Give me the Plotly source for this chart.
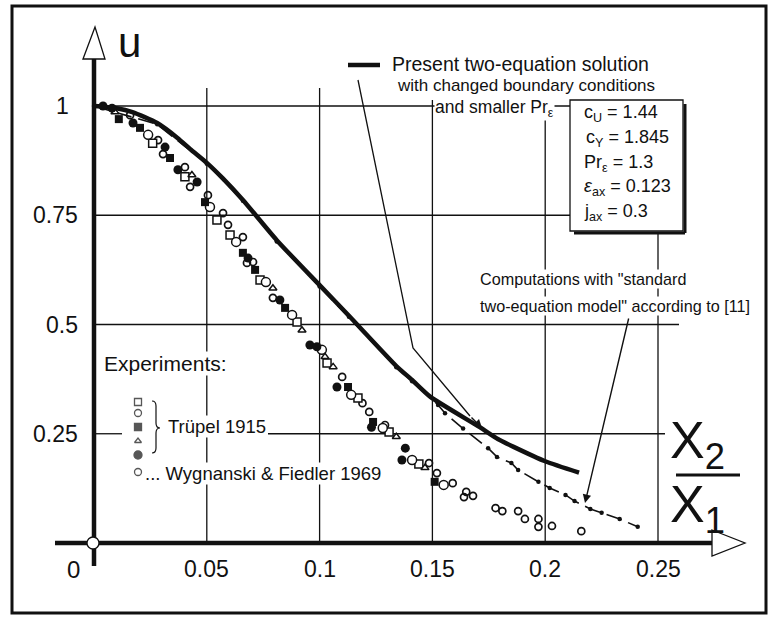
import plotly.graph_objects as go

# ---------------- data ----------------
present_x = [0.0, 0.005, 0.01, 0.017, 0.028, 0.037, 0.043, 0.05, 0.057, 0.066, 0.081, 0.1, 0.113,
             0.134, 0.141, 0.149, 0.171, 0.179, 0.186, 0.2, 0.215]
present_u = [1.0, 0.998, 0.995, 0.986, 0.961, 0.927, 0.9, 0.87, 0.835, 0.785, 0.693, 0.59, 0.52,
             0.405, 0.373, 0.335, 0.265, 0.238, 0.22, 0.187, 0.161]

standard_x = [0.0, 0.028, 0.05, 0.066, 0.081, 0.1, 0.113, 0.134, 0.141, 0.1525, 0.1556, 0.1636,
              0.1747, 0.1786, 0.185, 0.188, 0.197, 0.202, 0.209, 0.213, 0.22, 0.225, 0.233, 0.241]
standard_u = [1.0, 0.958, 0.868, 0.783, 0.69, 0.587, 0.518, 0.402, 0.37, 0.316, 0.297, 0.262,
              0.217, 0.197, 0.183, 0.167, 0.14, 0.126, 0.11, 0.096, 0.078, 0.069, 0.055, 0.037]

tr_osq_x = [0.026, 0.0403, 0.0545, 0.0603, 0.0736, 0.09, 0.1033, 0.117, 0.1308, 0.144]
tr_osq_u = [0.915, 0.838, 0.739, 0.705, 0.602, 0.506, 0.412, 0.332, 0.254, 0.181]

tr_ocir_x = [0.024, 0.0514, 0.063, 0.0762, 0.0878, 0.101, 0.114, 0.128, 0.141, 0.155]
tr_ocir_u = [0.934, 0.769, 0.689, 0.597, 0.522, 0.442, 0.339, 0.263, 0.19, 0.133]

tr_fsq_x = [0.011, 0.0204, 0.0337, 0.0492, 0.066, 0.0714, 0.0847, 0.1126, 0.1237, 0.151]
tr_fsq_u = [0.970, 0.950, 0.881, 0.780, 0.664, 0.625, 0.538, 0.357, 0.277, 0.14]

tr_otri_x = [0.0093, 0.0434, 0.0793, 0.0922, 0.1024, 0.106, 0.134, 0.1467]
tr_otri_u = [0.986, 0.842, 0.583, 0.487, 0.426, 0.403, 0.243, 0.172]

tr_fcir_x = [0.004, 0.008, 0.0173, 0.0315, 0.0372, 0.0457, 0.0683, 0.0824, 0.0957, 0.0988,
             0.1077, 0.123, 0.138, 0.1365]
tr_fcir_u = [1.0, 0.995, 0.961, 0.906, 0.854, 0.826, 0.652, 0.556, 0.453, 0.449,
             0.357, 0.265, 0.217, 0.19]

wf_x = [0.016, 0.0284, 0.0306, 0.0403, 0.0426, 0.0505, 0.0572, 0.0594, 0.066, 0.0678, 0.0705,
        0.0793, 0.110, 0.119, 0.122, 0.129, 0.1485, 0.152, 0.159, 0.165, 0.164, 0.168, 0.178,
        0.181, 0.188, 0.191, 0.197, 0.197, 0.203, 0.216]
wf_u = [0.979, 0.922, 0.89, 0.86, 0.815, 0.796, 0.755, 0.728, 0.70, 0.641, 0.643,
        0.561, 0.38, 0.32, 0.30, 0.27, 0.183, 0.16, 0.137, 0.117, 0.105, 0.108, 0.080,
        0.073, 0.073, 0.055, 0.055, 0.037, 0.039, 0.027]

x_ticks = [0.05, 0.1, 0.15, 0.2, 0.25]
x_tick_labels = ["0.05", "0.1", "0.15", "0.2", "0.25"]
u_ticks = [1, 0.75, 0.5, 0.25]
u_tick_labels = ["1", "0.75", "0.5", "0.25"]

# ---------------- pixel helpers for decorations ----------------
W, H = 770, 619
PX0, PXS = 94.0, 2256.0   # x=0 pixel, pixels per unit
PY0, PYS = 543.0, 437.0   # u=0 pixel, pixels per unit


def X(px):
    return (px - PX0) / PXS


def Y(py):
    return (PY0 - py) / PYS


FONT = "Liberation Sans Narrow, Arial Narrow, Liberation Sans, Arial, sans-serif"
BLK = "#111111"

fig = go.Figure()

# curves
fig.add_trace(go.Scatter(x=standard_x, y=standard_u, mode="lines+markers",
                         line=dict(color=BLK, width=1.6, dash="16px,7px"),
                         marker=dict(size=4.5, color=BLK), hoverinfo="skip"))
fig.add_trace(go.Scatter(x=present_x, y=present_u, mode="lines",
                         line=dict(color=BLK, width=4.5, shape="spline", smoothing=0.6),
                         hoverinfo="skip"))

open_line = dict(color=BLK, width=1.5)
fig.add_trace(go.Scatter(x=wf_x, y=wf_u, mode="markers",
                         marker=dict(symbol="circle-open", size=7, line=dict(color=BLK, width=1.7),
                                     color=BLK)))
fig.add_trace(go.Scatter(x=tr_osq_x, y=tr_osq_u, mode="markers",
                         marker=dict(symbol="square", size=8, color="white", line=open_line)))
fig.add_trace(go.Scatter(x=tr_ocir_x, y=tr_ocir_u, mode="markers",
                         marker=dict(symbol="circle", size=9, color="white", line=open_line)))
fig.add_trace(go.Scatter(x=tr_otri_x, y=tr_otri_u, mode="markers",
                         marker=dict(symbol="triangle-up", size=7, color="white", line=open_line)))
fig.add_trace(go.Scatter(x=tr_fsq_x, y=tr_fsq_u, mode="markers",
                         marker=dict(symbol="square", size=8, color=BLK)))
fig.add_trace(go.Scatter(x=tr_fcir_x, y=tr_fcir_u, mode="markers",
                         marker=dict(symbol="circle", size=9, color=BLK)))

# legend keys (experiments)
key_y = [402, 413, 427, 441, 455, 472]
key_sym = ["square", "circle", "square", "triangle-up", "circle", "circle"]
key_fill = ["white", "white", BLK, "white", BLK, "white"]
key_size = [7, 7, 7, 6, 8, 7]
fig.add_trace(go.Scatter(x=[X(138)] * 6, y=[Y(v) for v in key_y], mode="markers",
                         marker=dict(symbol=key_sym, size=key_size, color=key_fill,
                                     line=dict(color=BLK, width=1.3)), hoverinfo="skip"))

shapes = []


def line(x0, y0, x1, y1, w=1.3, layer="below"):
    shapes.append(dict(type="line", x0=x0, y0=y0, x1=x1, y1=y1, layer=layer,
                       line=dict(color=BLK, width=w)))


# outer frame
shapes.append(dict(type="rect", x0=X(12), y0=Y(6), x1=X(766), y1=Y(613),
                   line=dict(color=BLK, width=3)))

# grid
for u in [1, 0.75]:
    line(0, u, X(570), u)
line(0, 0.5, X(679), 0.5)
line(0, 0.25, X(122), 0.25)
line(X(268), 0.25, X(665), 0.25)
line(0.05, 0, 0.05, Y(88))
line(0.1, 0, 0.1, Y(88))
line(0.15, 0, 0.15, Y(100))
line(0.2, 0, 0.2, Y(100))
line(0.25, 0, 0.25, Y(232))

# axes
line(0, Y(566), 0, Y(59), w=4.5, layer="above")
line(X(55), 0, X(712), 0, w=4.5, layer="above")
shapes.append(dict(type="path", layer="above",
                   path=f"M {X(83)} {Y(59)} L {X(95)} {Y(27)} L {X(105)} {Y(59)} Z",
                   fillcolor="white", line=dict(color=BLK, width=1.3)))
shapes.append(dict(type="path", layer="above",
                   path=f"M {X(712)} {Y(530)} L {X(745)} {Y(543)} L {X(712)} {Y(556)} Z",
                   fillcolor="white", line=dict(color=BLK, width=1.3)))
shapes.append(dict(type="circle", layer="above", x0=X(87), x1=X(99), y0=Y(549), y1=Y(537),
                   fillcolor="white", line=dict(color=BLK, width=1.3)))

# legend line for the present solution
line(X(348), Y(65), X(380), Y(65), w=4.5, layer="above")

# pointer from legend (kinked)
shapes.append(dict(type="path", layer="above",
                   path=f"M {X(358)} {Y(80)} L {X(413)} {Y(348)} L {X(470)} {Y(416)}",
                   line=dict(color=BLK, width=1.3)))

# parameter box with shadow
line(X(685), Y(104), X(685), Y(233), w=3, layer="above")
line(X(574), Y(233), X(685), Y(233), w=3, layer="above")
shapes.append(dict(type="rect", layer="above", x0=X(570), x1=X(683), y0=Y(100), y1=Y(231),
                   fillcolor="white", line=dict(color=BLK, width=1.3)))

# brace
bx0, bx1, bx2 = X(152), X(156), X(160)
yt, ym, yb = Y(401), Y(428), Y(453)
d = 5 / PYS
shapes.append(dict(type="path", layer="above",
                   path=(f"M {bx0} {yt} Q {bx1} {yt} {bx1} {yt - d} L {bx1} {ym + d} "
                         f"Q {bx1} {ym} {bx2} {ym} Q {bx1} {ym} {bx1} {ym - d} "
                         f"L {bx1} {yb + d} Q {bx1} {yb} {bx0} {yb}"),
                   line=dict(color=BLK, width=1.2)))

ann = []


def text(px, py, s, size, anchor="left", bg=None, yanchor="middle"):
    a = dict(x=X(px), y=Y(py), text=s, showarrow=False, xanchor=anchor, yanchor=yanchor,
             font=dict(family=FONT, size=size, color=BLK))
    if bg:
        a["bgcolor"] = bg
        a["borderpad"] = 0
    ann.append(a)


# axis labels
for xv, lab in zip(x_ticks, x_tick_labels):
    ann.append(dict(x=xv, y=Y(569), text=lab, showarrow=False, xanchor="center",
                    yanchor="middle", font=dict(family=FONT, size=23, color=BLK)))
for uv, lab in zip(u_ticks, u_tick_labels):
    ann.append(dict(x=X(80) if lab != "1" else X(71), y=uv, text=lab, showarrow=False,
                    xanchor="right", yanchor="middle",
                    font=dict(family=FONT, size=23, color=BLK)))
text(82, 569, "0", 24, anchor="right")
text(116, 42, "u", 42)

text(697, 444, "X<sub>2</sub>", 52, anchor="center")
line(X(676), Y(475), X(740), Y(475), w=3, layer="above")
text(697, 508, "X<sub>1</sub>", 52, anchor="center")

# titles and legend texts
text(391, 64, "Present two-equation solution", 19.5, bg="white")
text(396, 85, "with changed boundary conditions", 17, bg="white")
text(434, 108, "and smaller Pr<sub>ε</sub>", 17.5, bg="white")

text(582, 113, "c<sub>U</sub> = 1.44", 18)
text(584, 138, "c<sub>Y</sub> = 1.845", 18)
text(582, 163, "Pr<sub>ε</sub> = 1.3", 18)
text(582, 187, "<i>ε</i><sub>ax</sub> = 0.123", 18)
text(582, 212, "j<sub>ax</sub> = 0.3", 18)

text(479, 279, "Computations with \"standard", 16.2, bg="white")
text(479, 306, "two-equation model\" according to [11]", 16.2, bg="white")

text(103, 363, "Experiments:", 21, bg="white")
text(167, 426, "Trüpel 1915", 18.5, bg="white")
text(144, 473, "... Wygnanski &amp; Fiedler 1969", 18.5, bg="white")

# arrows
ann.append(dict(x=X(482), y=Y(428), ax=X(470), ay=Y(416), axref="x", ayref="y", xref="x", yref="y",
                text="", showarrow=True, arrowhead=2, arrowsize=1.2, arrowwidth=1.4,
                arrowcolor=BLK, standoff=0))
ann.append(dict(x=X(585), y=Y(503), ax=X(629), ay=Y(317), axref="x", ayref="y", xref="x", yref="y",
                text="", showarrow=True, arrowhead=2, arrowsize=1.2, arrowwidth=1.4,
                arrowcolor=BLK, standoff=0))

fig.update_layout(
    width=W, height=H, autosize=False,
    margin=dict(l=0, r=0, t=0, b=0, pad=0),
    paper_bgcolor="white", plot_bgcolor="white",
    showlegend=False,
    xaxis=dict(range=[X(0), X(W)], visible=False, fixedrange=True),
    yaxis=dict(range=[Y(H), Y(0)], visible=False, fixedrange=True),
    shapes=shapes, annotations=ann,
)

fig.write_html("out.html", config={"displayModeBar": False, "staticPlot": True},
               post_script="document.body.style.margin='0';")
